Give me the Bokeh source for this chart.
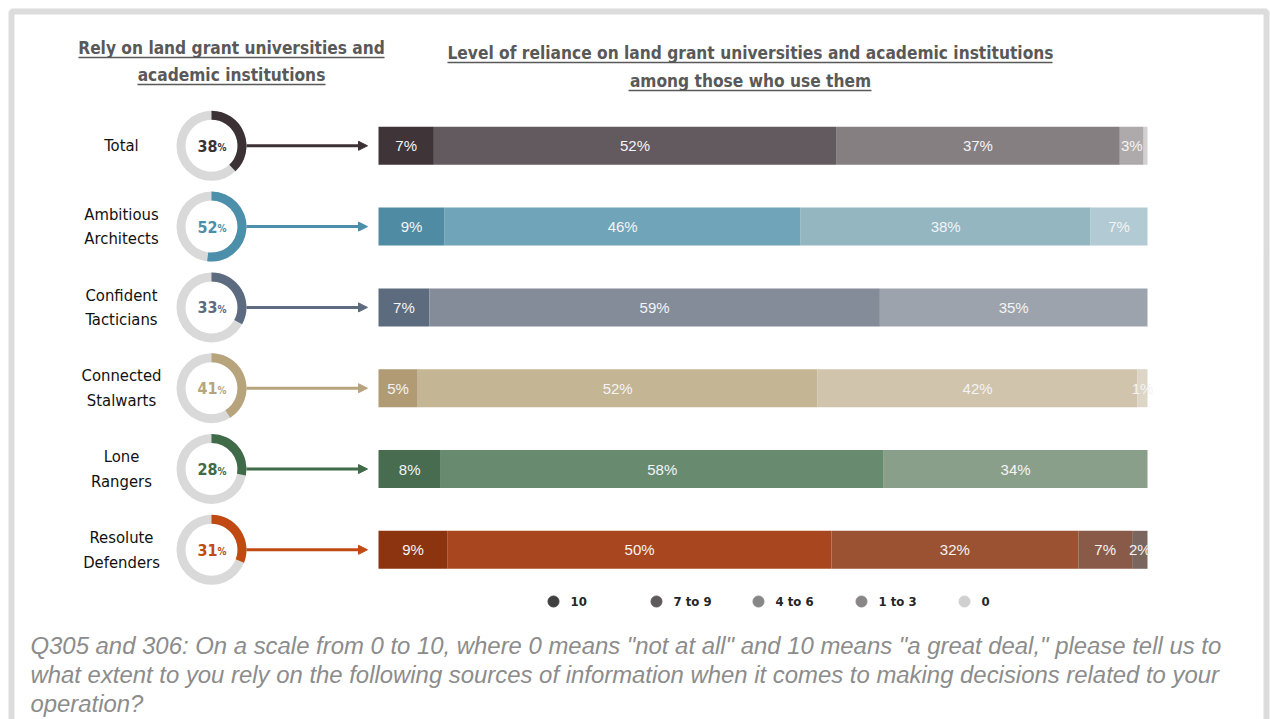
from bokeh.plotting import figure
from bokeh.models import ColumnDataSource, Range1d, Arrow, NormalHead
from bokeh.core.properties import value
from bokeh.embed import file_html
from bokeh.resources import INLINE
import math

# ---------------- data ----------------
segments = ["10", "7 to 9", "4 to 6", "1 to 3", "0"]
groups = ["Total", "Ambitious\nArchitects", "Confident\nTacticians",
          "Connected\nStalwarts", "Lone\nRangers", "Resolute\nDefenders"]
rely_pct = [38, 52, 33, 41, 28, 31]

total_vals = [7.2, 52.3, 36.9, 3.1, 0.5]
ambitious_vals = [8.6, 46.3, 37.7, 7.4, 0.0]
confident_vals = [6.6, 58.6, 34.8, 0.0, 0.0]
connected_vals = [5.1, 52.0, 41.6, 1.3, 0.0]
lone_vals = [8.1, 57.6, 34.3, 0.0, 0.0]
resolute_vals = [9.0, 49.9, 32.1, 7.0, 2.0]
all_vals = [total_vals, ambitious_vals, confident_vals, connected_vals, lone_vals, resolute_vals]

group_colors = ["#3c3236", "#4b8fab", "#5d6b80", "#b8a47c", "#3f6b48", "#c04a12"]
segment_colors = [
    ["#3f3539", "#625a5e", "#857f82", "#aeaaac", "#d3d0d1"],
    ["#4f8ba3", "#70a4b8", "#93b6c1", "#b2cad3", "#d0e0e6"],
    ["#5d6b7e", "#838c98", "#9ca3ad", "#b9bec5", "#d6d9dd"],
    ["#b09b75", "#c4b594", "#d0c4ac", "#ddd5c6", "#ebe6dc"],
    ["#476c4f", "#688a6f", "#8a9f8a", "#a9b9a9", "#cbd5cb"],
    ["#8c3410", "#a8461f", "#9a5232", "#8a5a48", "#7b665d"],
]
legend_colors = ["#404040", "#5f5a5c", "#878787", "#8a8587", "#d0d0d0"]

title_left = ["Rely on land grant universities and", "academic institutions"]
title_right = ["Level of reliance on land grant universities and academic institutions",
               "among those who use them"]
footnote = ['Q305 and 306: On a scale from 0 to 10, where 0 means "not at all" and 10 means "a great deal," please tell us to',
            "what extent to you rely on the following sources of information when it comes to making decisions related to your",
            "operation?"]

# ---------------- layout constants (pixels) ----------------
W, H = 1270, 719
BAR_L, BAR_R = 378, 1147
ROW0, ROW_STEP = 145.3, 80.8
px_per_pct = (BAR_R - BAR_L) / 100.0

NARROW = "DejaVu Sans Condensed"

p = figure(width=W, height=H, output_backend="svg", toolbar_location=None,
           x_range=Range1d(0, W), y_range=Range1d(H, 0), min_border=0,
           min_border_left=0, min_border_right=0, min_border_top=0, min_border_bottom=0)
p.axis.visible = False
p.grid.visible = False
p.outline_line_color = None
p.background_fill_color = "white"
p.border_fill_color = "white"

p.extra_x_ranges = {"pct": Range1d(-BAR_L / px_per_pct, (W - BAR_L) / px_per_pct)}
p.extra_y_ranges = {"rows": Range1d((H - ROW0) / ROW_STEP, (0 - ROW0) / ROW_STEP)}

# frame
p.quad(left=[11], right=[1266], top=[11], bottom=[760], fill_color=None,
       line_color="#dcdcdc", line_width=6)

# ---------------- bars ----------------
rows, lefts, rights, cols, labs, mids = [], [], [], [], [], []
for i, vals in enumerate(all_vals):
    cum = 0.0
    for j, v in enumerate(vals):
        if v > 0:
            rows.append(i)
            lefts.append(cum)
            rights.append(cum + v)
            cols.append(segment_colors[i][j])
            mids.append(cum + v / 2)
            labs.append(f"{v:.0f}%" if v >= 1 else "")
        cum += v
bar_src = ColumnDataSource(dict(y=rows, left=lefts, right=rights, color=cols, mid=mids, lab=labs))
p.hbar(y="y", left="left", right="right", height=0.47, fill_color="color", line_color=None,
       source=bar_src, x_range_name="pct", y_range_name="rows")
p.text(x="mid", y="y", text="lab", source=bar_src, x_range_name="pct", y_range_name="rows",
       text_align="center", text_baseline="middle", text_color="#f4f4f4",
       text_font=value("Liberation Sans"), text_font_size="15px")

# ---------------- donuts ----------------
idx = list(range(len(groups)))
don_src = ColumnDataSource(dict(
    y=idx, start=[math.pi / 2 - 2 * math.pi * v / 100 for v in rely_pct],
    color=group_colors, num=[str(v) for v in rely_pct], pct=["%"] * len(idx),
    lab=groups))
DX = 211
p.annular_wedge(x=DX, y="y", inner_radius=26, outer_radius=35, inner_radius_units="screen",
                outer_radius_units="screen", start_angle=0, end_angle=2 * math.pi,
                fill_color="#d9d9d9", line_color=None, source=don_src, y_range_name="rows")
p.annular_wedge(x=DX, y="y", inner_radius=26, outer_radius=35, inner_radius_units="screen",
                outer_radius_units="screen", start_angle="start", end_angle=math.pi / 2,
                fill_color="color", line_color=None, source=don_src, y_range_name="rows")
p.text(x=217, y="y", text="num", source=don_src, y_range_name="rows", text_align="right",
       text_baseline="middle", text_color="color", text_font=value(NARROW),
       text_font_style="bold", text_font_size="16px")
p.text(x=217, y="y", text="pct", source=don_src, y_range_name="rows", text_align="left",
       text_baseline="middle", text_color="color", text_font=value(NARROW),
       text_font_style="bold", text_font_size="10px", y_offset=2)

for i in idx:
    p.add_layout(Arrow(x_start=246, x_end=367, y_start=i, y_end=i, y_range_name="rows",
                       line_color=group_colors[i], line_width=3,
                       end=NormalHead(size=9, fill_color=group_colors[i],
                                      line_color=group_colors[i])))

# row labels
p.text(x=121, y="y", text="lab", source=don_src, y_range_name="rows", text_align="center",
       text_baseline="middle", text_color="#111111", text_font=value(NARROW),
       text_font_size="16.5px", text_line_height=1.3)

# ---------------- titles ----------------
def title(lines, cx, ys, ul):
    for t, y, (x0, x1) in zip(lines, ys, ul):
        p.text(x=[cx], y=[y], text=[t], text_align="center", text_baseline="middle",
               text_color="#595959", text_font=value(NARROW), text_font_style="bold",
               text_font_size="17.2px")
        p.segment(x0=[x0], x1=[x1], y0=[y + 10], y1=[y + 10], line_color="#595959", line_width=1.5)

title(title_left, 231, [47, 74], [(78, 384), (137, 325)])
title(title_right, 750, [52, 80], [(447, 1052), (628, 871)])

# ---------------- legend ----------------
leg_x = [553, 656, 758, 861, 964]
p.scatter(x=leg_x, y=[601] * 5, size=11, color=legend_colors, marker="circle")
p.text(x=[x + 17 for x in leg_x], y=[601] * 5, text=segments, text_align="left",
       text_baseline="middle", text_color="#262626", text_font=value(NARROW),
       text_font_style="bold", text_font_size="13px")

# ---------------- footnote ----------------
p.text(x=[30] * 3, y=[645, 674, 703], text=footnote, text_align="left", text_baseline="middle",
       text_color="#8c8c8c", text_font=value("Liberation Sans"), text_font_style="italic",
       text_font_size="23.9px")

open("out.html", "w").write(file_html(p, INLINE))
